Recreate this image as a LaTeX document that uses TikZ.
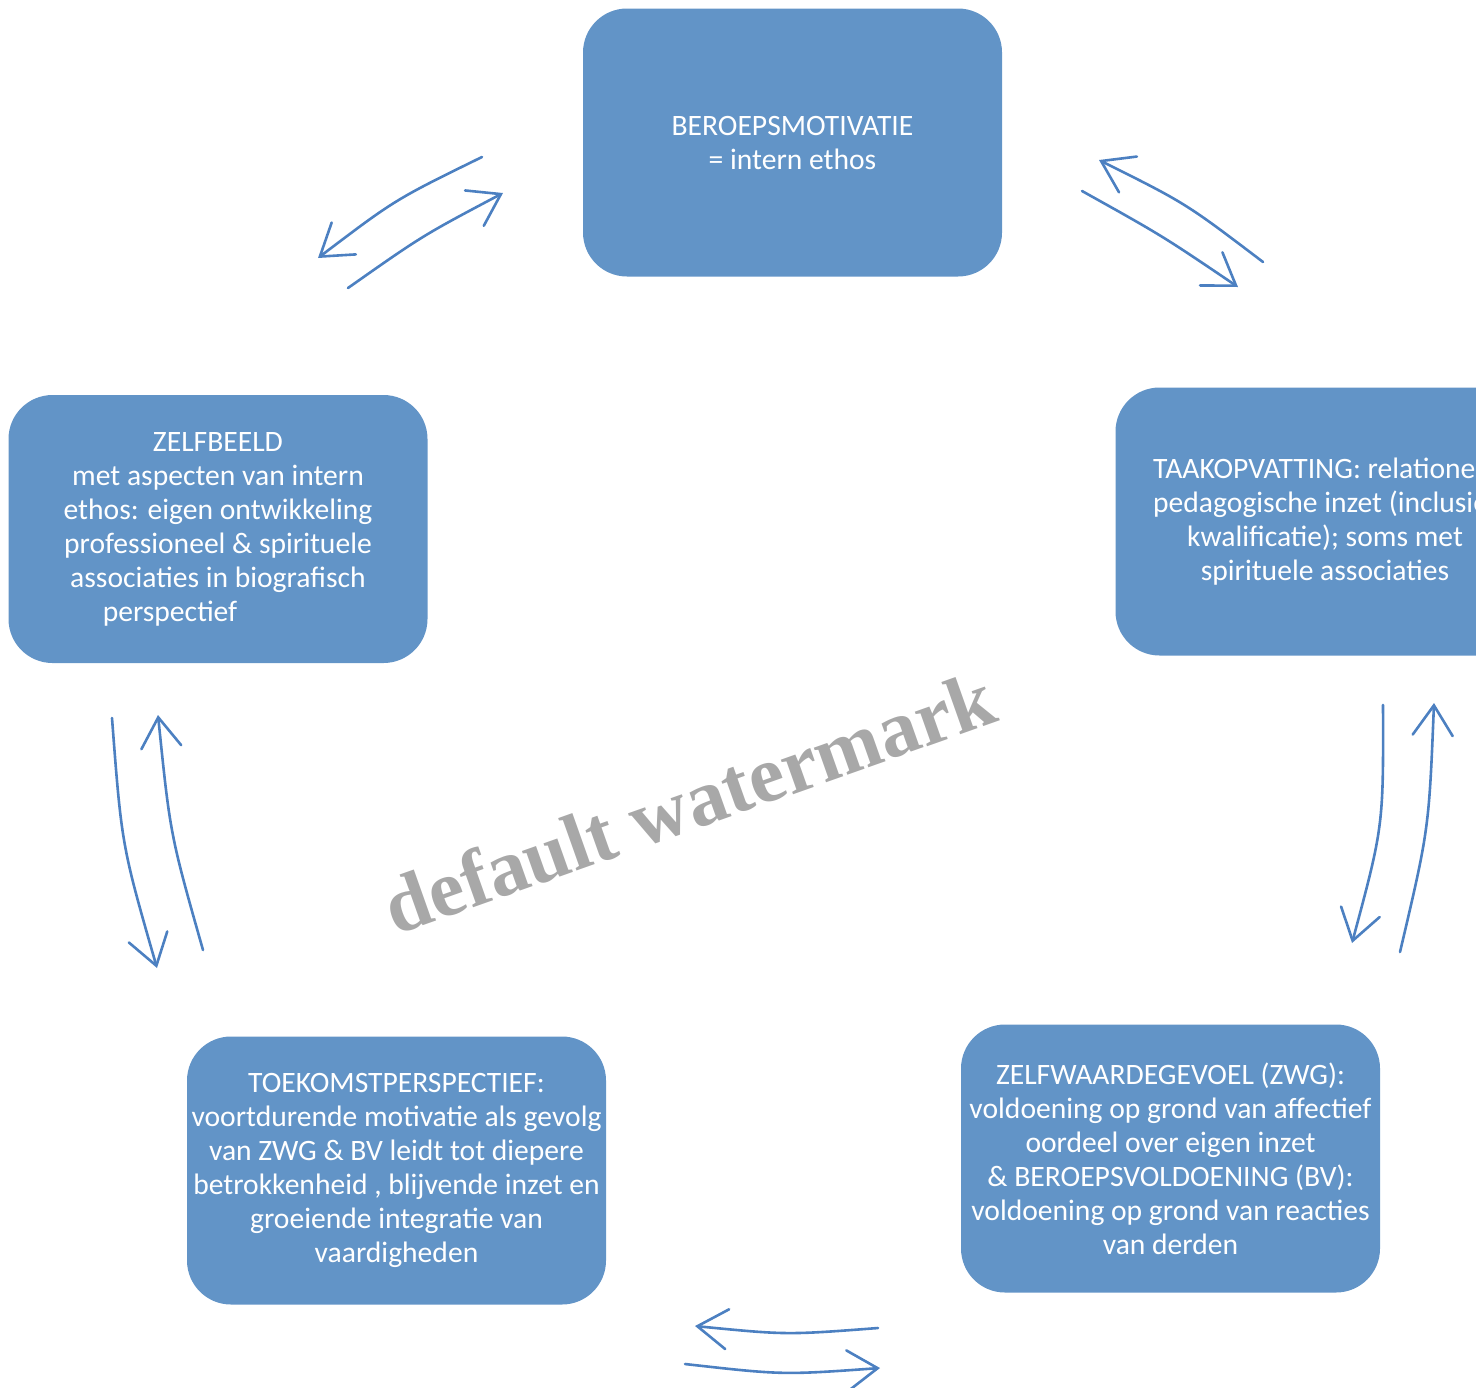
\documentclass[tikz,border=0pt]{standalone}
\usepackage{fontspec}
\setmainfont{Carlito}
\newfontfamily\markfont{Liberation Serif}
\usetikzlibrary{arrows.meta}

\definecolor{boxblue}{RGB}{98,148,199}
\definecolor{arrowblue}{RGB}{76,128,193}
\definecolor{markgray}{RGB}{168,168,168}

\begin{document}
\begin{tikzpicture}[x=0.5pt,y=-0.5pt,
  stage/.style={fill=boxblue, rounded corners=22pt, minimum width=209.5pt,
    minimum height=134pt, inner sep=0pt, text=white, align=center,
    font=\fontsize{14.8}{17}\selectfont},
  flow/.style={draw=arrowblue, line width=1.3pt, line cap=round,
    -{Straight Barb[length=15pt,width=20pt,line cap=round]}}]

  % Fix the page size and cut off what sticks out
  \useasboundingbox (0,0) rectangle (1476,1387);
  \clip (0,0) rectangle (1476,1387);

  % The five boxes of the cycle
  \node[stage] (motivatie) at (792.5,142.5)
    {BEROEPSMOTIVATIE\\ = intern ethos};
  \node[stage] (zelfbeeld) at (218,529)
    {ZELFBEELD\\ met aspecten van intern\\ ethos: eigen ontwikkeling\\
     professioneel \& spirituele\\ associaties in biografisch\\
     perspectief\hspace*{48pt}};
  \node[stage] (taak) at (1325,521.5)
    {TAAKOPVATTING: relationeel\\ pedagogische inzet (inclusief\\
     kwalificatie); soms met\\ spirituele associaties};
  \node[stage] (toekomst) at (396.5,1170.5)
    {TOEKOMSTPERSPECTIEF:\\ voortdurende motivatie als gevolg\\
     van ZWG \& BV leidt tot diepere\\ betrokkenheid , blijvende inzet en\\
     groeiende integratie van\\ vaardigheden};
  \node[stage] (zwg) at (1170.5,1158.5)
    {ZELFWAARDEGEVOEL (ZWG):\\ voldoening op grond van affectief\\
     oordeel over eigen inzet\\ \& BEROEPSVOLDOENING (BV):\\
     voldoening op grond van reacties\\ van derden};

  % End points of the arrow pairs between the boxes
  % top left pair
  \coordinate (a1s) at (482,157);
  \coordinate (a1e) at (318,258);
  \coordinate (a2s) at (348,288);
  \coordinate (a2e) at (503,193);
  % top right pair
  \coordinate (b1s) at (1263,262);
  \coordinate (b1e) at (1099,160);
  \coordinate (b2s) at (1082,191);
  \coordinate (b2e) at (1238,287);
  % left pair
  \coordinate (c1s) at (112,718);
  \coordinate (c1e) at (157,968);
  \coordinate (c2s) at (203,950);
  \coordinate (c2e) at (158,715);
  % right pair
  \coordinate (d1s) at (1383,705);
  \coordinate (d1e) at (1352,943);
  \coordinate (d2s) at (1400,952);
  \coordinate (d2e) at (1434,703);
  % bottom pair
  \coordinate (e1s) at (878,1328);
  \coordinate (e1e) at (695,1326);
  \coordinate (e2s) at (685,1364);
  \coordinate (e2e) at (880,1368);

  % Draw the slightly bent arrows
  \draw[flow] (a1s) .. controls (395,199.6) .. (a1e);
  \draw[flow] (a2s) .. controls (422.5,235.6) .. (a2e);
  \draw[flow] (b1s) .. controls (1185.8,203.3) .. (b1e);
  \draw[flow] (b2s) .. controls (1162,235.6) .. (b2e);
  \draw[flow] (c1s) .. controls (121.7,845.3) .. (c1e);
  \draw[flow] (c2s) .. controls (170.2,834.5) .. (c2e);
  \draw[flow] (d1s) .. controls (1383.4,826.1) .. (d1e);
  \draw[flow] (d2s) .. controls (1428.9,829.1) .. (d2e);
  \draw[flow] (e1s) .. controls (786.5,1335) .. (e1e);
  \draw[flow] (e2s) .. controls (782.5,1375) .. (e2e);

  % Watermark across the middle
  \node[rotate=19.5, text=markgray, inner sep=0pt,
    font=\markfont\bfseries\fontsize{40}{40}\selectfont] (mark) at (689,802)
    {default watermark};

\end{tikzpicture}
\end{document}
